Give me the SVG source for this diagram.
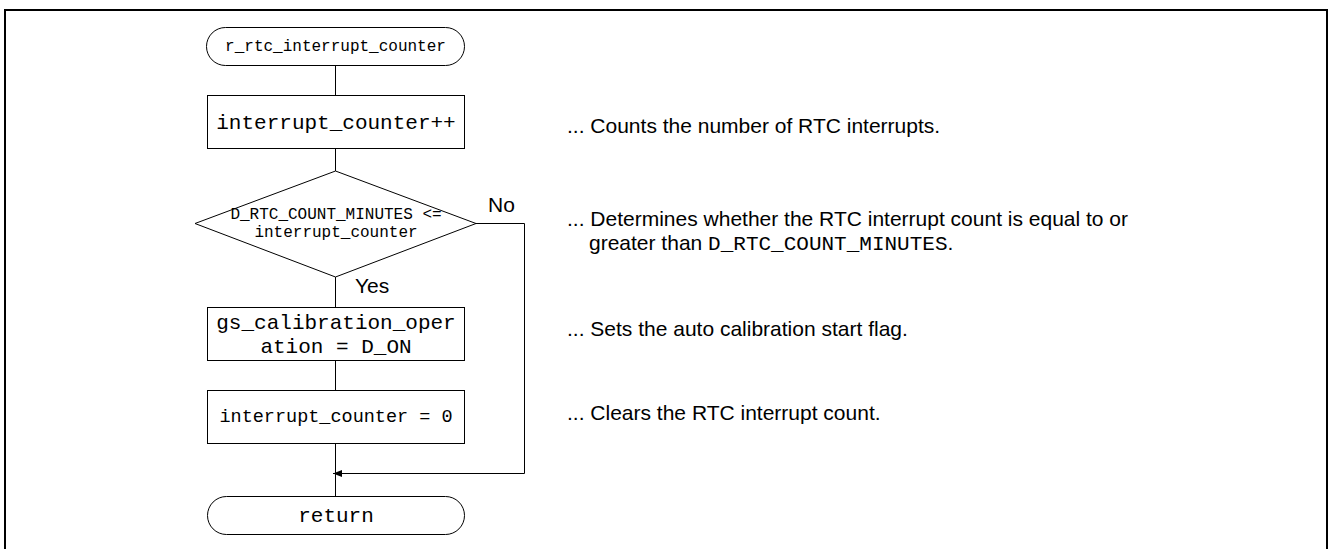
<svg xmlns="http://www.w3.org/2000/svg" width="1328" height="549" viewBox="0 0 1328 549">
<style>
.shape{fill:#fff;stroke:#000;stroke-width:1}
.line{fill:none;stroke:#000;stroke-width:1}
.mono{font-family:"Liberation Mono","Courier New",monospace;fill:#000;text-anchor:middle}
.sans{font-family:"Liberation Sans",Arial,sans-serif;fill:#000;font-size:21px}
</style>
<defs>
<marker id="arr" markerWidth="10" markerHeight="8" refX="9" refY="3.5" orient="auto" markerUnits="userSpaceOnUse">
<path d="M0,0 L9,3.5 L0,7 Z" fill="#000"/>
</marker>
</defs>
<rect x="5" y="10" width="1322" height="600" fill="none" stroke="#000" stroke-width="2"/>
<g id="connectors">
<line class="line" x1="335.5" y1="65" x2="335.5" y2="95"/>
<line class="line" x1="335.5" y1="148" x2="335.5" y2="171"/>
<line class="line" x1="335.5" y1="277" x2="335.5" y2="307"/>
<line class="line" x1="335.5" y1="360" x2="335.5" y2="390"/>
<line class="line" x1="335.5" y1="443" x2="335.5" y2="496"/>
<polyline class="line" points="476,223.5 524.5,223.5 524.5,473.5 333,473.5" marker-end="url(#arr)"/>
<text class="sans" x="355" y="293">Yes</text>
<text class="sans" x="488" y="212">No</text>
</g>
<g id="start">
<rect class="shape" x="206.5" y="27.5" width="258" height="38" rx="19" ry="19"/>
<text class="mono" x="335.5" y="51" font-size="16">r_rtc_interrupt_counter</text>
</g>
<g id="inc">
<rect class="shape" x="207.5" y="95.5" width="257" height="53"/>
<text class="mono" x="336" y="129" font-size="21">interrupt_counter++</text>
</g>
<g id="decision">
<polygon class="shape" points="335.5,171 476,223.5 335.5,277 195,223.5"/>
<text class="mono" x="336" y="219" font-size="16">D_RTC_COUNT_MINUTES &lt;=</text>
<text class="mono" x="336" y="237" font-size="16">interrupt_counter</text>
</g>
<g id="setflag">
<rect class="shape" x="207.5" y="307.5" width="257" height="53"/>
<text class="mono" x="336" y="329" font-size="21">gs_calibration_oper</text>
<text class="mono" x="336" y="353" font-size="21">ation = D_ON</text>
</g>
<g id="clear">
<rect class="shape" x="207.5" y="390.5" width="257" height="53"/>
<text class="mono" x="336" y="422" font-size="18.5">interrupt_counter = 0</text>
</g>
<g id="end">
<rect class="shape" x="207.5" y="496.5" width="257" height="38" rx="19" ry="19"/>
<text class="mono" x="336" y="522" font-size="21">return</text>
</g>
<g id="notes">
<text class="sans" x="567" y="133">... Counts the number of RTC interrupts.</text>
<text class="sans" x="567" y="226">... Determines whether the RTC interrupt count is equal to or</text>
<text class="sans" x="589" y="250">greater than <tspan font-family="Liberation Mono, Courier New, monospace">D_RTC_COUNT_MINUTES</tspan>.</text>
<text class="sans" x="567" y="336">... Sets the auto calibration start flag.</text>
<text class="sans" x="567" y="420">... Clears the RTC interrupt count.</text>
</g>
</svg>
